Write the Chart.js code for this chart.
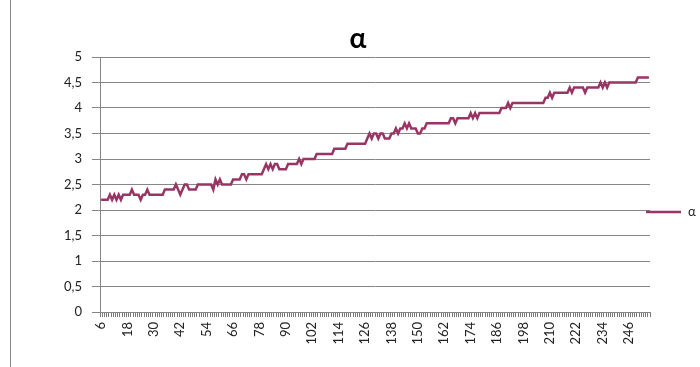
<!DOCTYPE html>
<html>
<head>
<meta charset="utf-8">
<script src="https://cdn.jsdelivr.net/npm/chart.js@4.4.0/dist/chart.umd.min.js"></script>
<style>
  html, body { margin: 0; padding: 0; background: #fff; }
  canvas { display: block; }
</style>
</head>
<body>
<canvas id="alphaChart" width="700" height="367"></canvas>
<script>
// data
const seriesName = 'α';

const categories = [
  6, 7, 8, 9, 10, 11, 12, 13, 14, 15,
  16, 17, 18, 19, 20, 21, 22, 23, 24, 25,
  26, 27, 28, 29, 30, 31, 32, 33, 34, 35,
  36, 37, 38, 39, 40, 41, 42, 43, 44, 45,
  46, 47, 48, 49, 50, 51, 52, 53, 54, 55,
  56, 57, 58, 59, 60, 61, 62, 63, 64, 65,
  66, 67, 68, 69, 70, 71, 72, 73, 74, 75,
  76, 77, 78, 79, 80, 81, 82, 83, 84, 85,
  86, 87, 88, 89, 90, 91, 92, 93, 94, 95,
  96, 97, 98, 99, 100, 101, 102, 103, 104, 105,
  106, 107, 108, 109, 110, 111, 112, 113, 114, 115,
  116, 117, 118, 119, 120, 121, 122, 123, 124, 125,
  126, 127, 128, 129, 130, 131, 132, 133, 134, 135,
  136, 137, 138, 139, 140, 141, 142, 143, 144, 145,
  146, 147, 148, 149, 150, 151, 152, 153, 154, 155,
  156, 157, 158, 159, 160, 161, 162, 163, 164, 165,
  166, 167, 168, 169, 170, 171, 172, 173, 174, 175,
  176, 177, 178, 179, 180, 181, 182, 183, 184, 185,
  186, 187, 188, 189, 190, 191, 192, 193, 194, 195,
  196, 197, 198, 199, 200, 201, 202, 203, 204, 205,
  206, 207, 208, 209, 210, 211, 212, 213, 214, 215,
  216, 217, 218, 219, 220, 221, 222, 223, 224, 225,
  226, 227, 228, 229, 230, 231, 232, 233, 234, 235,
  236, 237, 238, 239, 240, 241, 242, 243, 244, 245,
  246, 247, 248, 249, 250, 251, 252, 253, 254, 255
];

const alphaValues = [
  2.2, 2.2, 2.2, 2.2, 2.3, 2.2, 2.3, 2.2, 2.3, 2.2,
  2.3, 2.3, 2.3, 2.3, 2.4, 2.3, 2.3, 2.3, 2.2, 2.3,
  2.3, 2.4, 2.3, 2.3, 2.3, 2.3, 2.3, 2.3, 2.3, 2.4,
  2.4, 2.4, 2.4, 2.4, 2.5, 2.4, 2.3, 2.4, 2.5, 2.5,
  2.4, 2.4, 2.4, 2.4, 2.5, 2.5, 2.5, 2.5, 2.5, 2.5,
  2.5, 2.4, 2.6, 2.5, 2.6, 2.5, 2.5, 2.5, 2.5, 2.5,
  2.6, 2.6, 2.6, 2.6, 2.7, 2.7, 2.6, 2.7, 2.7, 2.7,
  2.7, 2.7, 2.7, 2.7, 2.8, 2.9, 2.8, 2.9, 2.8, 2.9,
  2.9, 2.8, 2.8, 2.8, 2.8, 2.9, 2.9, 2.9, 2.9, 2.9,
  3.0, 2.9, 3.0, 3.0, 3.0, 3.0, 3.0, 3.0, 3.1, 3.1,
  3.1, 3.1, 3.1, 3.1, 3.1, 3.1, 3.2, 3.2, 3.2, 3.2,
  3.2, 3.2, 3.3, 3.3, 3.3, 3.3, 3.3, 3.3, 3.3, 3.3,
  3.3, 3.4, 3.5, 3.4, 3.5, 3.5, 3.4, 3.5, 3.5, 3.4,
  3.4, 3.4, 3.5, 3.5, 3.6, 3.5, 3.6, 3.6, 3.7, 3.6,
  3.7, 3.6, 3.6, 3.6, 3.5, 3.5, 3.6, 3.6, 3.7, 3.7,
  3.7, 3.7, 3.7, 3.7, 3.7, 3.7, 3.7, 3.7, 3.7, 3.8,
  3.8, 3.7, 3.8, 3.8, 3.8, 3.8, 3.8, 3.8, 3.9, 3.8,
  3.9, 3.8, 3.9, 3.9, 3.9, 3.9, 3.9, 3.9, 3.9, 3.9,
  3.9, 3.9, 4.0, 4.0, 4.0, 4.1, 4.0, 4.1, 4.1, 4.1,
  4.1, 4.1, 4.1, 4.1, 4.1, 4.1, 4.1, 4.1, 4.1, 4.1,
  4.1, 4.1, 4.2, 4.2, 4.3, 4.2, 4.3, 4.3, 4.3, 4.3,
  4.3, 4.3, 4.3, 4.4, 4.3, 4.4, 4.4, 4.4, 4.4, 4.4,
  4.3, 4.4, 4.4, 4.4, 4.4, 4.4, 4.4, 4.5, 4.4, 4.5,
  4.4, 4.5, 4.5, 4.5, 4.5, 4.5, 4.5, 4.5, 4.5, 4.5,
  4.5, 4.5, 4.5, 4.5, 4.6, 4.6, 4.6, 4.6, 4.6, 4.6
];

const yTickLabels = ['0', '0,5', '1', '1,5', '2', '2,5', '3', '3,5', '4', '4,5', '5'];
const xLabelEvery = 12;

const lineColor = '#983564';
const axisGrey = '#868686';
const fontFamily = 'Lato, "Open Sans", sans-serif';

// white page, frame line on the left, title and legend placed like in Excel
const excelExtras = {
    id: 'excelExtras',
    beforeDraw(chart) {
        const ctx = chart.ctx;
        ctx.save();
        ctx.fillStyle = '#fff';
        ctx.fillRect(0, 0, chart.width, chart.height);
        ctx.restore();
    },
    afterDraw(chart) {
        const ctx = chart.ctx;
        ctx.save();
        ctx.strokeStyle = axisGrey;
        ctx.lineWidth = 1;
        ctx.beginPath();
        ctx.moveTo(10.5, 0);
        ctx.lineTo(10.5, chart.height);
        ctx.stroke();

        // title
        ctx.fillStyle = '#000';
        ctx.font = 'bold 28px ' + fontFamily;
        ctx.textAlign = 'center';
        ctx.textBaseline = 'alphabetic';
        ctx.fillText(seriesName, 358, 48);

        // legend
        const ly = 212;
        ctx.strokeStyle = lineColor;
        ctx.lineWidth = 2.5;
        ctx.beginPath();
        ctx.moveTo(646, ly);
        ctx.lineTo(681, ly);
        ctx.stroke();
        ctx.fillStyle = '#222';
        ctx.font = '13px ' + fontFamily;
        ctx.textAlign = 'left';
        ctx.textBaseline = 'middle';
        ctx.fillText(seriesName, 688, ly);
        ctx.restore();
    }
};

new Chart(document.getElementById('alphaChart'), {
    type: 'line',
    data: {
        labels: categories,
        datasets: [{
            label: seriesName,
            data: alphaValues,
            borderColor: lineColor,
            borderWidth: 2.5,
            pointRadius: 0,
            tension: 0,
            fill: false
        }]
    },
    options: {
        responsive: false,
        animation: false,
        devicePixelRatio: 1,
        layout: { padding: { left: 0, right: 50, top: 57, bottom: 0 } },
        plugins: {
            legend: { display: false },
            tooltip: { enabled: false },
            title: { display: false }
        },
        scales: {
            x: {
                type: 'category',
                offset: true,
                afterFit: s => { s.height = 55; },
                grid: {
                    display: true,
                    offset: true,
                    drawOnChartArea: false,
                    drawTicks: true,
                    tickLength: 5,
                    color: '#7a7a7a'
                },
                border: { display: true, color: axisGrey, width: 1 },
                ticks: {
                    autoSkip: false,
                    minRotation: 90,
                    maxRotation: 90,
                    padding: 5,
                    color: '#222',
                    font: { family: fontFamily, size: 13 },
                    callback: (v, i) => (i % xLabelEvery === 0 ? String(categories[i]) : '')
                }
            },
            y: {
                min: 0,
                max: 5,
                afterFit: s => { s.width = 100; },
                grid: {
                    color: axisGrey,
                    tickLength: 8
                },
                border: { display: true, color: axisGrey, width: 1 },
                ticks: {
                    stepSize: 0.5,
                    padding: 10,
                    color: '#222',
                    font: { family: fontFamily, size: 13 },
                    callback: (v, i) => yTickLabels[i]
                }
            }
        }
    },
    plugins: [excelExtras]
});
</script>
</body>
</html>
